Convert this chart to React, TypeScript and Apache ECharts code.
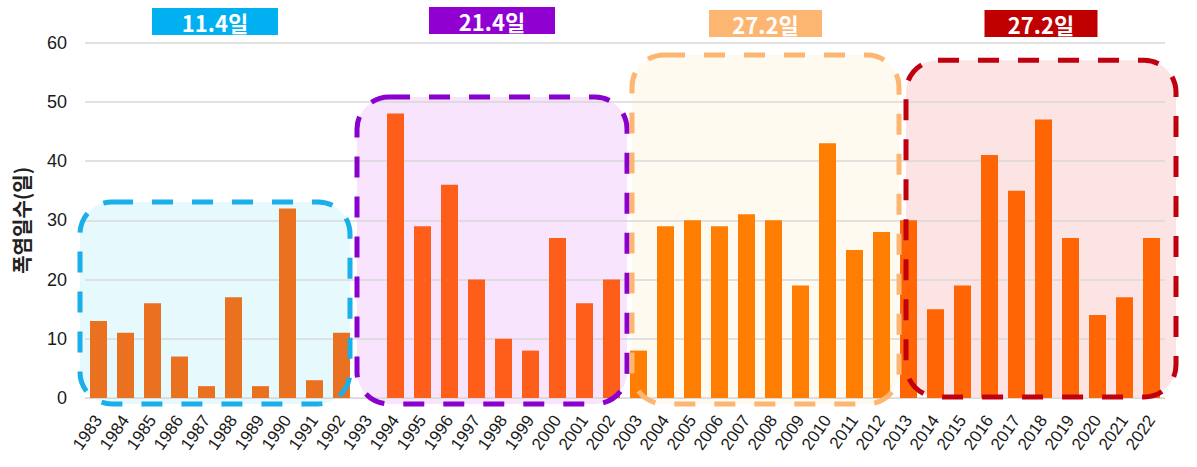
import React, { useEffect, useRef } from "react";
import * as echarts from "echarts";

// ---- data ----
const years = [
  "1983", "1984", "1985", "1986", "1987", "1988", "1989", "1990", "1991", "1992",
  "1993", "1994", "1995", "1996", "1997", "1998", "1999", "2000", "2001", "2002",
  "2003", "2004", "2005", "2006", "2007", "2008", "2009", "2010", "2011", "2012",
  "2013", "2014", "2015", "2016", "2017", "2018", "2019", "2020", "2021", "2022",
];
const heatDays = [
  13, 11, 16, 7, 2, 17, 2, 32, 3, 11,
  0, 48, 29, 36, 20, 10, 8, 27, 16, 20,
  8, 29, 30, 29, 31, 30, 19, 43, 25, 28,
  30, 15, 19, 41, 35, 47, 27, 14, 17, 27,
];
const periodLabels = ["11.4일", "21.4일", "27.2일", "27.2일"];
const periodStart = [0, 10, 20, 30];
const periodEnd = [9, 19, 29, 39];
const yAxisName = "폭염일수(일)";

// ---- styles ----
const FONT = "'Noto Sans CJK KR', 'Noto Sans', sans-serif";
const NUM_FONT = "'Liberation Sans', Arial, sans-serif";
const periodStyles = [
  { stroke: "#1AAEEA", fill: "#E6FAFD", bar: "#E9711F", tag: "#00B0F0", top: 33.1, bottom: -1.0, dl: -5, dr: -5, tagW: 126, tagY: 8 },
  { stroke: "#8A00CC", fill: "#F8E4FC", bar: "#FF5D1A", tag: "#9000D0", top: 50.8, bottom: -1.0, dl: 2, dr: 2, tagW: 126, tagY: 7 },
  { stroke: "#FDB671", fill: "#FFFAF0", bar: "#FF7D00", tag: "#FDB672", top: 57.9, bottom: -1.0, dl: 7, dr: 4, tagW: 113, tagY: 10 },
  { stroke: "#C0000F", fill: "#FDE4E4", bar: "#FF6505", tag: "#C00000", top: 57.0, bottom: 0.17, dl: 11, dr: 11, tagW: 113, tagY: 10 },
];

function periodOf(i: number) {
  for (let p = 0; p < periodStart.length; p++) {
    if (i >= periodStart[p] && i <= periodEnd[p]) return p;
  }
  return 0;
}

export default function App() {
  const ref = useRef<HTMLDivElement>(null);
  useEffect(() => {
    if (!ref.current) return;
    const chart = echarts.init(ref.current, undefined, { renderer: "svg" });
    chart.setOption({
      animation: false,
      grid: { left: 85, right: 32, top: 42.5, bottom: 69 },
      xAxis: {
        type: "category",
        data: years,
        axisTick: { show: false },
        axisLine: { lineStyle: { color: "#d9d9d9", width: 1 } },
        axisLabel: { rotate: 55, interval: 0, fontSize: 17, color: "#1a1a1a", margin: 19, fontFamily: NUM_FONT },
      },
      yAxis: {
        type: "value",
        min: 0,
        max: 60,
        interval: 10,
        name: yAxisName,
        nameLocation: "middle",
        nameGap: 54,
        nameTextStyle: { fontSize: 20, fontWeight: "bold", color: "#222", fontFamily: FONT },
        axisLine: { show: false },
        axisTick: { show: false },
        axisLabel: { fontSize: 18, color: "#1a1a1a", margin: 18, fontFamily: NUM_FONT },
        splitLine: { lineStyle: { color: "#d9d9d9", width: 1.5 } },
      },
      series: [
        {
          type: "bar",
          barWidth: 17,
          data: heatDays.map((v, i) => ({ value: v, itemStyle: { color: periodStyles[periodOf(i)].bar } })),
          z: 2,
        },
      ],
    });

    const px = (i: number, v: number) =>
      chart.convertToPixel({ xAxisIndex: 0, yAxisIndex: 0 }, [i, v]) as number[];
    const half = (px(1, 0)[0] - px(0, 0)[0]) / 2;
    const graphics: any[] = [];
    periodStart.forEach((s, p) => {
      const st = periodStyles[p];
      const left = px(s, 0)[0] - half + st.dl;
      const right = px(periodEnd[p], 0)[0] + half + st.dr;
      const top = px(s, st.top)[1];
      const bottom = px(s, st.bottom)[1];
      const shape = { x: left, y: top, width: right - left, height: bottom - top, r: 32 };
      graphics.push({
        type: "rect",
        z: -5,
        silent: true,
        shape,
        style: { fill: st.fill, stroke: "none" },
      });
      graphics.push({
        type: "rect",
        z: 10,
        silent: true,
        shape,
        style: { fill: "none", stroke: st.stroke, lineWidth: 5, lineDash: [21, 19] },
      });
      const cx = (left + right) / 2;
      graphics.push({
        type: "rect",
        z: 10,
        silent: true,
        shape: { x: cx - st.tagW / 2, y: st.tagY, width: st.tagW, height: 27 },
        style: { fill: st.tag },
      });
      graphics.push({
        type: "text",
        z: 11,
        silent: true,
        x: cx,
        y: st.tagY + 13.5,
        style: {
          text: periodLabels[p],
          fill: "#fff",
          font: `bold 22px ${FONT}`,
          align: "center",
          verticalAlign: "middle",
        },
      });
    });
    chart.setOption({ graphic: graphics });
    return () => chart.dispose();
  }, []);
  return (
    <div
      ref={ref}
      style={{ position: "fixed", left: 0, top: 0, width: 1197, height: 467, background: "#fff" }}
    />
  );
}
